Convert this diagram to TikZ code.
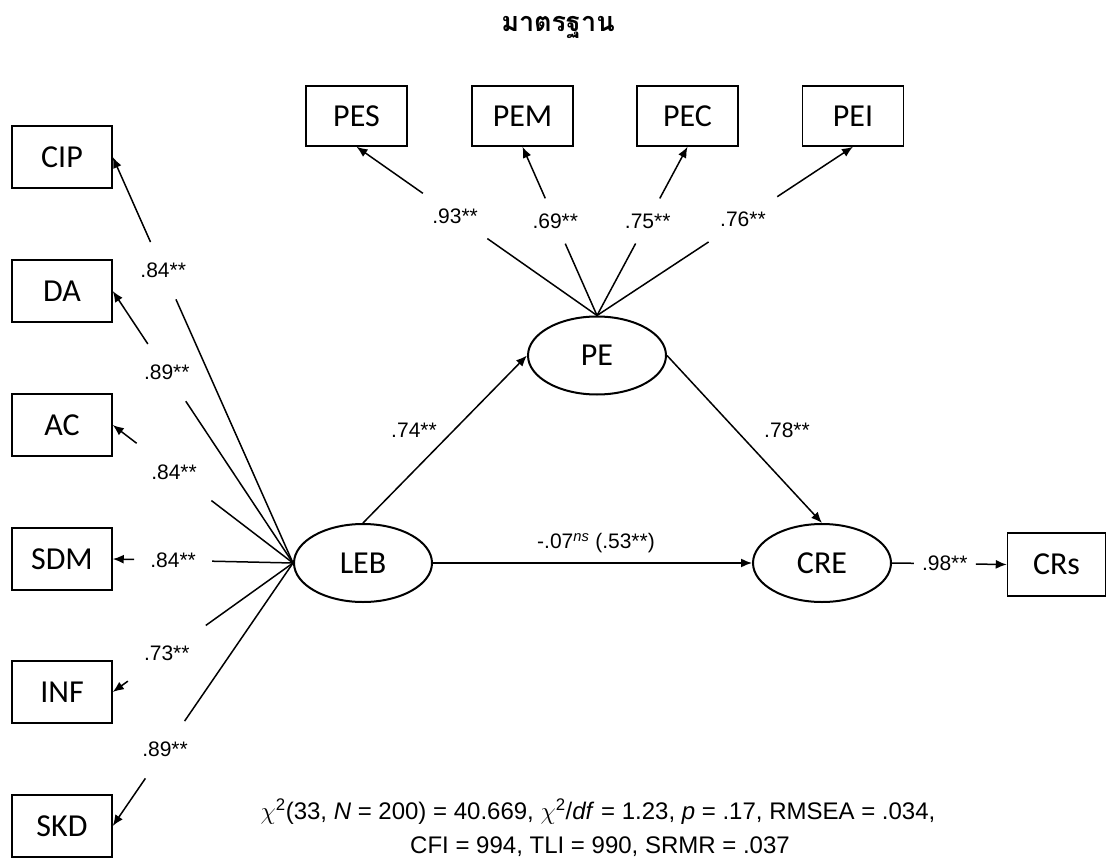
\documentclass[tikz,border=0pt]{standalone}
\usepackage{fontspec}
\setmainfont{Liberation Sans}
\newfontfamily\boxfont{Carlito}
\newfontfamily\thaifont[Script=Thai]{Loma}
\usetikzlibrary{shapes.geometric,arrows.meta}
\begin{document}
\begin{tikzpicture}[x=1pt,y=-1pt,
  obs/.style={draw, line width=1.5pt, rectangle, minimum width=100pt, minimum height=62pt, inner sep=0pt, font=\boxfont\fontsize{32}{36}\selectfont},
  topobs/.style={obs, minimum width=101pt, minimum height=60pt},
  lat/.style={draw, ellipse, line width=2pt, minimum width=138pt, minimum height=78pt, inner sep=0pt, font=\boxfont\fontsize{32}{36}\selectfont},
  conn/.style={line width=1.5pt},
  arr/.style={conn, -{Latex[length=11pt,width=9pt]}},
  lbl/.style={font=\fontsize{21}{24}\selectfont, inner sep=2pt},
  lab/.style={lbl, inner xsep=16pt, inner ysep=21pt},
  labtop/.style={lbl, inner xsep=12pt, inner ysep=15pt},
  labr/.style={lbl, inner xsep=8pt, inner ysep=8pt},
  fit/.style={font=\fontsize{24}{28}\selectfont, inner sep=0pt}
]
\useasboundingbox (0,0) rectangle (1107,858);

% title
\node[font=\thaifont\bfseries\fontsize{27}{30}\selectfont, anchor=base] (title) at (558,32) {มาตรฐาน};

% left indicators
\node[obs] (CIP) at (62,157) {CIP};
\node[obs] (DA)  at (62,291) {DA};
\node[obs] (AC)  at (62,425) {AC};
\node[obs] (SDM) at (62,559) {SDM};
\node[obs] (INF) at (62,692) {INF};
\node[obs] (SKD) at (62,826) {SKD};

% top indicators
\node[topobs] (PES) at (356.5,116) {PES};
\node[topobs] (PEM) at (522.5,116) {PEM};
\node[topobs] (PEC) at (687.5,116) {PEC};
\node[topobs] (PEI) at (853,116) {PEI};

% latent variables
\node[lat] (PE)  at (597,355.5) {PE};
\node[lat] (LEB) at (363,563) {LEB};
\node[lat] (CRE) at (822,563) {CRE};

% outcome indicator
\node[obs, minimum width=98pt, minimum height=63pt] (CRs) at (1056.5,564.5) {CRs};

% LEB loadings
\path (LEB.west) -- (CIP.east) node[lab,pos=0.72] (lCIP) {.84**};
\draw[conn] (LEB.west) -- (lCIP); \draw[arr] (lCIP) -- (CIP.east);
\path (LEB.west) -- (DA.east) node[lab,pos=0.70] (lDA) {.89**};
\draw[conn] (LEB.west) -- (lDA); \draw[arr] (lDA) -- (DA.east);
\path (LEB.west) -- (AC.east) node[lab,pos=0.66] (lAC) {.84**};
\draw[conn] (LEB.west) -- (lAC); \draw[arr] (lAC) -- (AC.east);
\path (LEB.west) -- (SDM.east) node[lab,pos=0.665] (lSDM) {.84**};
\draw[conn] (LEB.west) -- (lSDM); \draw[arr] (lSDM) -- (SDM.east);
\path (LEB.west) -- (INF.east) node[lab,pos=0.70] (lINF) {.73**};
\draw[conn] (LEB.west) -- (lINF); \draw[arr] (lINF) -- (INF.east);
\path (LEB.west) -- (SKD.east) node[lab,pos=0.71] (lSKD) {.89**};
\draw[conn] (LEB.west) -- (lSKD); \draw[arr] (lSKD) -- (SKD.east);

% PE loadings
\path (PE.north) -- (PES.south) node[labtop,pos=0.59] (lPES) {.93**};
\draw[conn] (PE.north) -- (lPES); \draw[arr] (lPES) -- (PES.south);
\path (PE.north) -- (PEM.south) node[labtop,pos=0.56] (lPEM) {.69**};
\draw[conn] (PE.north) -- (lPEM); \draw[arr] (lPEM) -- (PEM.south);
\path (PE.north) -- (PEC.south) node[labtop,pos=0.56] (lPEC) {.75**};
\draw[conn] (PE.north) -- (lPEC); \draw[arr] (lPEC) -- (PEC.south);
\path (PE.north) -- (PEI.south) node[labtop,pos=0.57] (lPEI) {.76**};
\draw[conn] (PE.north) -- (lPEI); \draw[arr] (lPEI) -- (PEI.south);

% CRE loading
\path (CRE.east) -- (CRs.west) node[labr,pos=0.46] (lCRs) {.98**};
\draw[conn] (CRE.east) -- (lCRs); \draw[arr] (lCRs) -- (CRs.west);

% structural paths
\draw[arr] (LEB.north) -- (PE.west);
\node[lbl] (l74) at (414,430) {.74**};
\draw[arr] (PE.east) -- (CRE.north);
\node[lbl] (l78) at (787,430) {.78**};
\draw[arr] (LEB.east) -- (CRE.west);
\node[lbl] (l07) at (596,543) {-.07\textsuperscript{\textit{ns}} (.53**)};

% fit statistics
\node[fit] (fit1) at (598,812) {{\fontsize{30}{30}\selectfont$\chi$}\textsuperscript{2}(33, \textit{N} = 200) = 40.669, {\fontsize{30}{30}\selectfont$\chi$}\textsuperscript{2}/\textit{df} = 1.23, \textit{p} = .17, RMSEA = .034,};
\node[fit] (fit2) at (600,847) {CFI = 994, TLI = 990, SRMR = .037};
\end{tikzpicture}
\end{document}
